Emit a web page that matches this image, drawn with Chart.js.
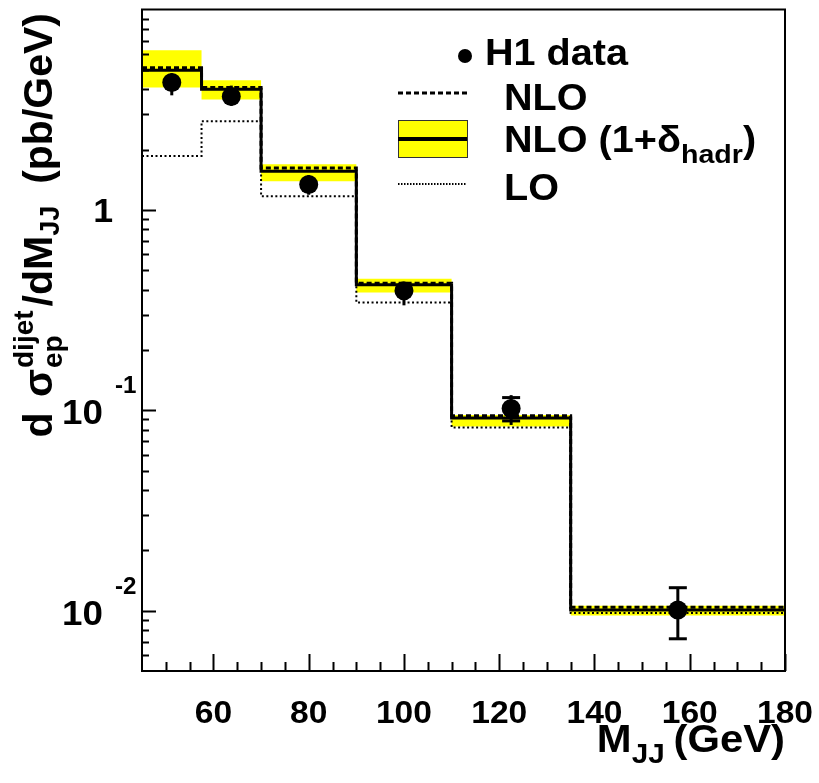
<!DOCTYPE html>
<html>
<head>
<meta charset="utf-8">
<script src="https://cdn.jsdelivr.net/npm/chart.js@4.4.1/dist/chart.umd.min.js"></script>
<style>
  body { margin: 0; background: #fff; }
  #wrap { width: 819px; height: 783px; }
</style>
</head>
<body>
<div id="wrap"><canvas id="c" width="819" height="783"></canvas></div>
<script>
// bin edges in M_JJ (GeV) and bin centres for the data points
const binEdges = [45, 57.5, 70, 90, 110, 135, 180];
const binCenters = [51.25, 63.75, 80, 100, 122.5, 157.5];

// H1 data (pb/GeV), total and stat. error bounds
const h1Data   = [4.32, 3.68, 1.34, 0.395, 0.102, 0.01008];
const h1TotHi  = [4.80, 4.17, 1.49, 0.436, 0.119, 0.01302];
const h1TotLo  = [3.73, 3.31, 1.19, 0.334, 0.0845, 0.00724];
const h1StatHi = [4.50, 3.85, 1.40, 0.410, 0.1157, 0.01302];
const h1StatLo = [4.15, 3.52, 1.28, 0.380, 0.0885, 0.00724];

// theory predictions
const nlo         = [5.12, 4.08, 1.62, 0.431, 0.0939, 0.0104];
const nloHadr     = [4.97, 4.00, 1.56, 0.423, 0.0915, 0.01008];
const nloHadrUp   = [6.27, 4.43, 1.69, 0.453, 0.0947, 0.01059];
const nloHadrDown = [4.08, 3.56, 1.39, 0.387, 0.0831, 0.00945];
const lo          = [1.86, 2.77, 1.17, 0.345, 0.0821, 0.00973];

// axis ticks
const xMajorTicks = [60, 80, 100, 120, 140, 160, 180];
const xMinorStep = 5;
const yDecades = [0, -1, -2];

const FONT = '"Liberation Sans", Arial, Helvetica, sans-serif';

// histogram as step points: value i holds from edge i to edge i+1
function steps(values) {
    const pts = values.map((v, i) => ({ x: binEdges[i], y: v }));
    pts.push({ x: binEdges[binEdges.length - 1], y: values[values.length - 1] });
    return pts;
}

// text runs with sub/superscripts, drawn from (0,0) along +x
function richWidth(ctx, parts) {
    let w = 0;
    for (const p of parts) {
        ctx.font = 'bold ' + p.size + 'px ' + FONT;
        let pw = ctx.measureText(p.t).width;
        if (p.t2) pw = Math.max(pw, ctx.measureText(p.t2).width);
        w += pw + (p.gap || 0);
    }
    return w;
}
function richDraw(ctx, parts) {
    let x = 0;
    for (const p of parts) {
        ctx.font = 'bold ' + p.size + 'px ' + FONT;
        ctx.fillText(p.t, x, p.dy || 0);
        let pw = ctx.measureText(p.t).width;
        if (p.t2) {
            ctx.fillText(p.t2, x, p.dy2 || 0);
            pw = Math.max(pw, ctx.measureText(p.t2).width);
        }
        x += pw + (p.gap || 0);
    }
}
// horizontally stretched text, anchored at its left (or right) end
function wideText(ctx, parts, x, y, sx, alignRight) {
    const w = richWidth(ctx, parts) * sx;
    ctx.save();
    ctx.translate(alignRight ? x - w : x, y);
    ctx.scale(sx, 1);
    richDraw(ctx, parts);
    ctx.restore();
}

const errorBars = {
    id: 'errorBars',
    beforeDatasetDraw(chart, args) {
        if (args.index !== 0) return;
        const { ctx, scales: { x, y } } = chart;
        const r = 9.5;
        ctx.save();
        ctx.strokeStyle = '#000';
        ctx.lineWidth = 3;
        binCenters.forEach((c, i) => {
            const px = x.getPixelForValue(c);
            const py = y.getPixelForValue(h1Data[i]);
            ctx.beginPath();
            ctx.moveTo(px, y.getPixelForValue(h1TotHi[i]));
            ctx.lineTo(px, y.getPixelForValue(h1TotLo[i]));
            ctx.stroke();
            [h1StatHi[i], h1StatLo[i]].forEach(v => {
                const cy = y.getPixelForValue(v);
                if (Math.abs(cy - py) > r) {
                    ctx.beginPath();
                    ctx.moveTo(px - 9, cy);
                    ctx.lineTo(px + 9, cy);
                    ctx.stroke();
                }
            });
        });
        ctx.restore();
    }
};

const frameAndText = {
    id: 'frameAndText',
    afterDraw(chart) {
        const { ctx, chartArea: a, scales: { x, y } } = chart;
        ctx.save();
        ctx.strokeStyle = '#000';
        ctx.fillStyle = '#000';
        ctx.lineWidth = 2;
        ctx.strokeRect(a.left, a.top, a.right - a.left, a.bottom - a.top);

        // x ticks (inside the frame)
        ctx.beginPath();
        for (let v = x.min + xMinorStep; v < x.max + 0.01; v += xMinorStep) {
            const px = Math.round(x.getPixelForValue(v)) + 0.5;
            const len = xMajorTicks.includes(v) ? 17 : 9;
            ctx.moveTo(px, a.bottom);
            ctx.lineTo(px, a.bottom - len);
        }
        // y ticks
        for (let e = -3; e <= 1; e++) {
            for (let m = 1; m <= 9; m++) {
                const v = m * Math.pow(10, e);
                if (v <= y.min * 1.0001 || v >= y.max * 0.9999) continue;
                const py = Math.round(y.getPixelForValue(v)) + 0.5;
                const len = m === 1 ? 14 : 7;
                ctx.moveTo(a.left, py);
                ctx.lineTo(a.left + len, py);
            }
        }
        ctx.stroke();

        // x tick labels
        ctx.textBaseline = 'alphabetic';
        xMajorTicks.forEach(v => {
            const parts = [{ t: String(v), size: 32 }];
            const w = richWidth(ctx, parts) * 1.05;
            wideText(ctx, parts, x.getPixelForValue(v) - w / 2, 723, 1.05, false);
        });

        // y tick labels
        ctx.textAlign = 'left';
        yDecades.forEach(e => {
            const py = y.getPixelForValue(Math.pow(10, e));
            if (e === 0) {
                wideText(ctx, [{ t: '1', size: 34 }], 113, py + 12, 1.05, true);
            } else {
                wideText(ctx, [{ t: '10', size: 35 }], 62, py + 14, 1.05, false);
                wideText(ctx, [{ t: String(e), size: 23 }], 115, py - 17, 1.05, false);
            }
        });

        // x title, right aligned to the frame
        wideText(ctx, [
            { t: 'M', size: 38 },
            { t: 'JJ', size: 27, dy: 11, gap: 8 },
            { t: '(GeV)', size: 38 }
        ], a.right, 752, 1.1, true);

        // y title, rotated, ending near the top
        const yt = [
            { t: 'd ', size: 41, gap: 4 },
            { t: '\u03c3', size: 41, gap: 1 },
            { t: 'dijet', size: 28, dy: -19, t2: 'ep', dy2: 10, gap: 4 },
            { t: '/dM', size: 41 },
            { t: 'JJ', size: 27, dy: 7, gap: 22 },
            { t: '(pb/GeV)', size: 41 }
        ];
        ctx.save();
        ctx.translate(52, 13 + richWidth(ctx, yt));
        ctx.rotate(-Math.PI / 2);
        richDraw(ctx, yt);
        ctx.restore();

        // legend
        const lx0 = 398, lx1 = 467;
        ctx.beginPath();
        ctx.arc(465, 56, 7, 0, 2 * Math.PI);
        ctx.fill();
        wideText(ctx, [{ t: 'H1 data', size: 36 }], 485, 65, 1.1, false);

        ctx.lineWidth = 3;
        ctx.setLineDash([5, 3]);
        ctx.beginPath();
        ctx.moveTo(lx0, 93); ctx.lineTo(lx1, 93);
        ctx.stroke();
        ctx.setLineDash([]);
        wideText(ctx, [{ t: 'NLO', size: 36 }], 504, 110, 1.1, false);

        ctx.fillStyle = '#ffff00';
        ctx.fillRect(lx0, 120, lx1 - lx0, 37);
        ctx.lineWidth = 1;
        ctx.strokeStyle = '#333';
        ctx.strokeRect(lx0 + 0.5, 120.5, lx1 - lx0, 37);
        ctx.fillStyle = '#000';
        ctx.fillRect(lx0, 137, lx1 - lx0, 4);
        wideText(ctx, [
            { t: 'NLO (1+\u03b4', size: 36 },
            { t: 'hadr', size: 26, dy: 11 },
            { t: ')', size: 36 }
        ], 504, 152, 1.1, false);

        ctx.strokeStyle = '#000';
        ctx.lineWidth = 2;
        ctx.setLineDash([1.5, 1.5]);
        ctx.beginPath();
        ctx.moveTo(lx0, 184); ctx.lineTo(lx1, 184);
        ctx.stroke();
        ctx.setLineDash([]);
        wideText(ctx, [{ t: 'LO', size: 36 }], 504, 200, 1.1, false);
        ctx.restore();
    }
};

new Chart(document.getElementById('c'), {
    type: 'line',
    data: {
        datasets: [
            {
                label: 'H1 data',
                data: binCenters.map((c, i) => ({ x: c, y: h1Data[i] })),
                showLine: false,
                pointRadius: 9.5,
                pointBackgroundColor: '#000',
                pointBorderWidth: 0,
                order: 0
            },
            {
                label: 'NLO (1+delta_hadr)',
                data: steps(nloHadr),
                stepped: true,
                borderColor: '#000',
                borderWidth: 3,
                pointRadius: 0,
                fill: false,
                order: 1
            },
            {
                label: 'NLO',
                data: steps(nlo),
                stepped: true,
                borderColor: '#000',
                borderWidth: 3,
                borderDash: [5, 3],
                pointRadius: 0,
                fill: false,
                order: 2
            },
            {
                label: 'LO',
                data: steps(lo),
                stepped: true,
                borderColor: '#000',
                borderWidth: 2,
                borderDash: [2, 2.5],
                pointRadius: 0,
                fill: false,
                order: 3
            },
            {
                label: 'band up',
                data: steps(nloHadrUp),
                stepped: true,
                borderWidth: 0,
                borderColor: 'rgba(0,0,0,0)',
                pointRadius: 0,
                fill: false,
                order: 5
            },
            {
                label: 'band down',
                data: steps(nloHadrDown),
                stepped: true,
                borderWidth: 0,
                borderColor: 'rgba(0,0,0,0)',
                backgroundColor: '#ffff00',
                pointRadius: 0,
                fill: '-1',
                order: 4
            }
        ]
    },
    options: {
        responsive: false,
        animation: false,
        devicePixelRatio: 1,
        layout: { padding: { left: 142, right: 34, top: 6, bottom: 112 } },
        scales: {
            x: { type: 'linear', min: 45, max: 180, display: false },
            y: { type: 'logarithmic', min: 0.005, max: 10, display: false }
        },
        plugins: {
            legend: { display: false },
            tooltip: { enabled: false }
        }
    },
    plugins: [errorBars, frameAndText]
});
</script>
</body>
</html>
